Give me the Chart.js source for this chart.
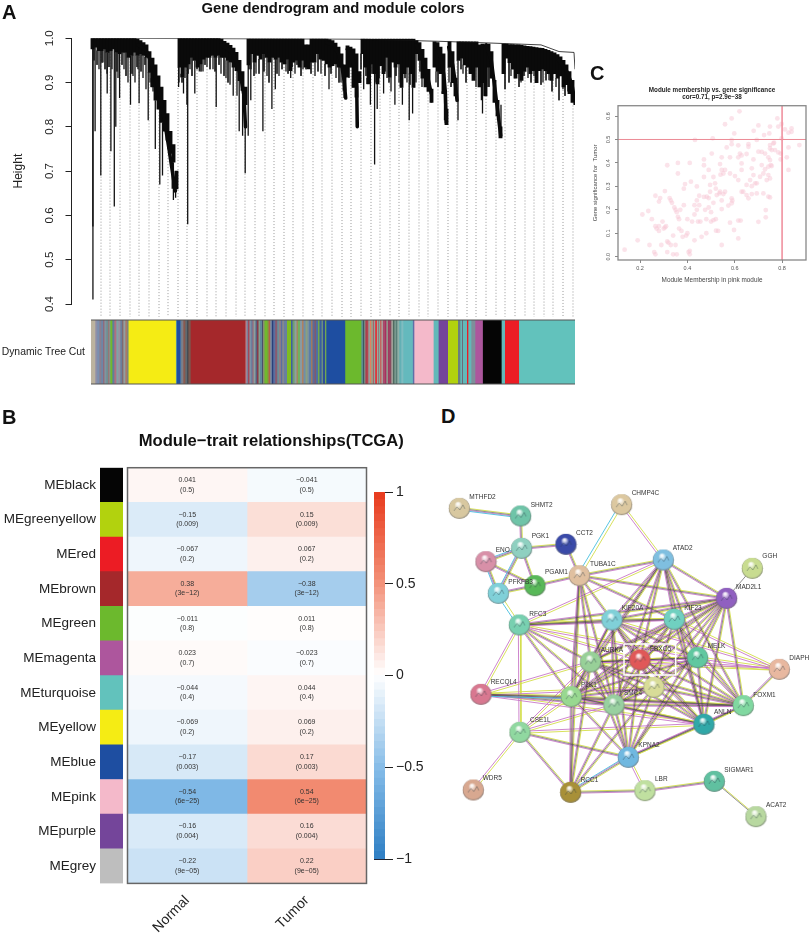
<!DOCTYPE html>
<html>
<head>
<meta charset="utf-8">
<title>WGCNA module figure</title>
<script src="https://cdn.jsdelivr.net/npm/chart.js@4/dist/chart.umd.min.js"></script>
<style>
  html, body { margin: 0; padding: 0; background: #fff; }
  #page { position: relative; width: 809px; height: 936px; overflow: hidden; font-family: "Liberation Sans", sans-serif; }
  #page canvas { position: absolute; }
  .panel-letter { position: absolute; font-weight: bold; font-size: 20px; line-height: 20px; color: #111; }
</style>
</head>
<body>
<div id="page">
  <canvas id="dendro" width="666" height="322" style="left:0px;top:0px"></canvas>
  <canvas id="strip" width="600" height="70" style="left:0px;top:317px"></canvas>
  <canvas id="network" width="379" height="370" style="left:430px;top:480px"></canvas>
  <canvas id="scatter" width="239" height="205" style="left:570px;top:84px"></canvas>
  <canvas id="moduleColors" width="124" height="430" style="left:0px;top:460px"></canvas>
  <canvas id="heat" width="295" height="511" style="left:120px;top:425px"></canvas>
  <canvas id="colorbar" width="60" height="385" style="left:365px;top:485px"></canvas>
  <div class="panel-letter" style="left:2px;top:2px">A</div>
  <div class="panel-letter" style="left:2px;top:407px">B</div>
  <div class="panel-letter" style="left:590px;top:63px">C</div>
  <div class="panel-letter" style="left:441px;top:406px">D</div>
</div>
<script>
// Panel A - dendrogram, read column by column (3 gene positions per column)
const dendroTop = [
  1,1,1,1,1,1,1,1,1,1,1,1,1,1,1,.998,.995,.99,.985,.97,.955,.94,.915,.89,.86,.83,.79,.76,.70,
  1,1,1,1,1,1,1,1,1,1,1,1,1,1,.998,.993,.989,.984,.978,.968,.95,.925,.89,
  .998,
  .998,.998,.998,.998,.998,.998,.998,.998,.998,.998,.998,.998,.998,.998,.998,.998,.998,.998,.985,.985,.998,.998,.998,.998,.998,.998,
  .997,.995,.989,.98,.965,.94,.983,.98,.976,.965,.925,
  .998,.998,.998,.998,.998,.998,.998,.998,.998,.998,.998,.998,.998,.998,.998,.998,.998,.998,
  .995,.99,.975,.955,.93,.885,
  .992,.99,.98,.965,.84,
  .992,.97,.91,
  .992,.992,.992,.992,.992,.992,.992,.985,
  .987,.985,
  .987,.97,.905,.86,.80,
  .987,.987,.986,.986,.985,.985,.984,.983,.982,.981,.98,.979,.978,.977,.975,.973,.97,.967,.963,.958,.95,.94,.925,.905,.875
];
const dendroBottom = [
  .976,.98,.972,.972,.976,.968,.972,.976,.968,.965,.968,.968,.957,.961,.968,.961,.965,.961,.957,.923,.89,.86,.84,.81,.79,.77,.74,.72,.66,
  .935,.912,.935,.942,.957,.95,.935,.942,.953,.957,.957,.961,.957,.961,.957,.957,.95,.946,.935,.927,.904,.882,.85,
  .94,
  .965,.946,.961,.953,.965,.957,.946,.957,.953,.957,.946,.942,.953,.927,.946,.95,.935,.95,.935,.931,.946,.946,.965,.953,.95,.942,.935,.938,.942,.935,.935,.882,.912,.935,.889,.867,.90,
  .965,.935,.897,.942,.92,.897,.938,.92,.957,.912,.946,.935,.942,.889,.92,.935,.92,.889,
  .965,.95,.91,.89,.88,.855,
  .935,.925,.92,.875,.805,
  .935,.90,.87,
  .95,.955,.94,.935,.92,.905,.935,.89,
  .90,.87,
  .935,.91,.855,.825,.775,
  .92,.955,.945,.93,.91,.92,.905,.925,.935,.92,.927,.90,.927,.93,.927,.92,.905,.92,.91,.915,.89,.895,.875,.855,.85
];
const spikePos = [1.9,4.1,9.8,16.2,19.9,23.3,24.8,28.6,39.5,48.1,57.2,64.3,68.8,71.5,77.1,81.2,82.4,84.6,87.6,92.5,95.9,96.7,103.8,108.3,125.2,142.2,148.2,151.6,154.2,157.2,159.8,171.9,180.9,184.3,199.7,238,253.1,265.5,272.7,279.4,283.6,286.2,292.6,303.9,311.4,318.2,321.6,340.4,353.5,367,390.4,391.5,406.6,408.4,410.3,476.9,483.3];
const spikeHeight = [.575,.79,.69,.875,.745,.62,.80,.865,.85,.853,.815,.75,.67,.69,.75,.66,.635,.64,.89,.875,.85,.58,.875,.925,.845,.87,.79,.78,.695,.78,.86,.79,.84,.885,.91,.885,.865,.80,.885,.85,.715,.84,.875,.85,.85,.815,.83,.86,.815,.815,.86,.83,.83,.775,.79,.88,.855];
const fringePos = [1.9,8,12,16,21,27,33,37,42,44,47,52,55,59,62,88,90,94,99,112,116,122,130,135,139,146,160,165,176,188,195,204,212,224,230,245,250,258,262,276,284,296,300,308,316,325,331,345,358,372,385,397,410,420,430,437,443,452,458,465,472];
const fringeHeight = [.41,.93,.945,.92,.93,.91,.93,.90,.915,.90,.93,.91,.885,.90,.88,.90,.92,.91,.93,.925,.935,.93,.92,.91,.895,.87,.93,.92,.915,.915,.925,.92,.93,.915,.92,.91,.90,.91,.90,.91,.90,.91,.88,.90,.90,.90,.89,.90,.90,.92,.89,.89,.85,.915,.90,.91,.915,.90,.905,.89,.885];
const hairPos = [3,6,11,14,18,26,31,35,41,46,50,54,60,91,97,101,106,110,114,119,124,128,133,137,158,163,168,173,178,186,191,197,201,206,210,215,220,227,234,240,248,254,270,275,281,288,294,298,305,310,314,319,323,329,334,347,351,360,370,375,380,388,393,398,414,418,423,428,433,440,446,450,455,461,468,474,480];
const hairHeight = [.95,.94,.945,.93,.935,.925,.94,.915,.92,.935,.925,.94,.91,.90,.92,.915,.93,.925,.94,.93,.925,.94,.915,.90,.93,.915,.92,.925,.90,.92,.93,.92,.935,.94,.915,.93,.92,.925,.915,.92,.90,.905,.93,.915,.92,.91,.925,.90,.915,.895,.91,.895,.915,.925,.90,.89,.88,.89,.93,.90,.92,.925,.90,.89,.885,.90,.91,.89,.915,.90,.91,.895,.905,.88,.86,.87,.855];
// the long sweeping branches at the right end of each cluster (null starts a new branch)
const arcPos = [47,55.3,62,67.7,73,78,81.3,84.3,null,130,140,146,150,153,154.5,null,235.7,242.3,247.3,250.7,253.3,254.7,null,256.3,260.7,264,265.7,266.3,null,325.3,331,336,340.3,null,344.3,349.3,352.7,354.3,355.3,null,357.7,361.7,364.3,366,null,395,400.3,404.3,407,409.7,null,467.7,476,481,483.7];
const arcHeight = [.985,.972,.935,.885,.82,.75,.70,.655,null,.985,.97,.945,.91,.87,.80,null,.99,.985,.965,.94,.90,.865,null,.975,.96,.93,.89,.80,null,.985,.955,.92,.875,null,.985,.96,.92,.88,.81,null,.98,.94,.90,.86,null,.985,.95,.88,.83,.78,null,.95,.925,.895,.86];
const guidePos = [10,19,29,39,48,58,68,77,87,96,106,116,125,135,145,154,164,174,183,193,202,212,222,231,241,251,260,270,280,289,299,308,318,328,337,347,357,366,376,385,395,405,414,424,434,443,453,462,472,482];
const rootPos = [0,267,350,402,450,468,483,484];
const rootHeight = [1,.998,.993,.989,.985,.97,.968,.93];
const heightTicks = [0.4,0.5,0.6,0.7,0.8,0.9,1.0];

// Dynamic Tree Cut strip
const stripWidths = [
  4,2,2,2,2,1,2,2,1,1,2,2,2,2,2,2,1,2,2,1.2,
  47.4,
  1,3.4,1,2,2,2,1,2.3,
  54.9,
  1,1.5,1.5,1,2,1,2,1.5,1.5,1.5,2,1,1.5,3,1.2,1.5,1.5,1.5,2,2,2,1.5,1.5,1.5,3.3,4,1.5,2,2,1.5,2,2,1.5,2,2,1.5,2,1.5,2,1.5,2,1.5,2,1.5,2,1.3,
  18.9,16.1,
  1.5,1.5,1,2,1,1.5,1.5,1.5,1,1.5,1.5,1,1,1.5,1,1.5,2,1.5,1.5,2,1.5,1.5,1.5,1.5,1.5,2,2,2,9.5,1.5,
  19.3,5,9.4,10,2.3,1.7,1,4,1.3,3,4,7.5,18.8,3.4,14,56.3
];
const stripColors = [
  '#bcb39f','#8f8fa8','#7a8fb0','#8a7f8f','#6c86a8','#a0606a','#7f95a0','#6e8f92','#a96b6b','#7f9a9a','#6fba2c','#5e7f9a','#b07080','#7fa3a8','#9a8fa0','#6a7f9a','#8a5f5f','#92a0a0','#a87a6a','#6f8a80',
  '#f5ec14',
  '#4f8f9a','#1f4ea1','#5a7f9f','#7f7f88','#8a5a4f','#606a70','#3a3f46','#7a5a50',
  '#a5282b',
  '#c09098','#7a7f9a','#a04a5a','#8fa0a8','#6a7f9f','#a06070','#88a0a0','#5a5f7f','#8a3a4a','#7fa090','#5f8a9a','#4a4f6a','#8a8f70','#6fba2c','#8a8f40','#b0604a','#7a90a8','#2a3f7a','#5a6fa0','#8a5a70','#6a8f98','#9a7a80','#5a6fa0','#8a8a8a','#6a7f9f','#7ebc22','#3f5fa0','#6f9f6f','#8f9fa0','#a08a5a','#6fb060','#8a9aa0','#b08060','#6f8fa8','#8aa080','#7a8fa0','#5a7fa8','#a07a60','#5a6a9a','#7f5a70','#4f6fa0','#6fa84f','#3a5fa0','#6a8f80','#2f4f98','#70a850',
  '#1e4ea1','#6cb92d',
  '#5f8f98','#3a5a60','#8f9f90','#a83f4f','#c04a50','#8fa0a0','#e08060','#8fa890','#b0505a','#90a8a0','#ec1c24','#a0b0a0','#9a6a70','#7fb0a0','#e04040','#a8a8a0','#a84a6a','#a83060','#90a090','#a03a5f','#8a4a60','#a8a8a0','#506a60','#7a9a90','#5a7f78','#8fb0a8','#62b0b5','#7fbcc0','#64b9bd','#5f6fa8',
  '#f4b9ca','#62b9b9','#74459a','#b2d20e','#6a7f80','#62b9b9','#6a6a7a','#62b9b9','#ec1c24','#62b9b9','#7f8f9a','#ad569d','#050505','#62b9b9','#ec1c24','#62c2bc'
];

// Panel B - module trait relationships
const moduleNames = ['MEblack','MEgreenyellow','MEred','MEbrown','MEgreen','MEmagenta','MEturquoise','MEyellow','MEblue','MEpink','MEpurple','MEgrey'];
const moduleColors = ['#050505','#b2d20e','#ec1c24','#a5282b','#6cb92d','#ad569d','#62c2bc','#f5ec14','#1e4ea1','#f4b9ca','#74459a','#bebebe'];
const traitNames = ['Normal','Tumor'];
const normalCor = [0.041,-0.15,-0.067,0.38,-0.011,0.023,-0.044,-0.069,-0.17,-0.54,-0.16,-0.22];
const tumorCor = [-0.041,0.15,0.067,-0.38,0.011,-0.023,0.044,0.069,0.17,0.54,0.16,0.22];
const corPvalues = ['0.5','0.009','0.2','3e−12','0.8','0.7','0.4','0.2','0.003','6e−25','0.004','9e−05'];
const colorbarTicks = [-1,-0.5,0,0.5,1];

// Panel C - module membership vs gene significance
const membership = [.135,.19,.21,.235,.24,.25,.26,.265,.265,.265,.27,.28,.28,.285,.28,.29,.295,.3,.305,.31,.305,.315,.315,.315,.32,.325,.33,.33,.335,.34,.34,.345,.35,.35,.355,.355,.36,.36,.36,.365,.365,.37,.375,.38,.385,.385,.39,.395,.4,.4,.405,.41,.41,.41,.415,.42,.43,.43,.43,.432,.44,.44,.44,.445,.45,.45,.455,.46,.47,.47,.47,.47,.475,.48,.48,.49,.49,.49,.5,.5,.51,.51,.507,.503,.52,.52,.53,.535,.54,.545,.559,.587,.598,.68,.70,.78,.798,.784,.749,.746,.724,.84,.84,.812,.827,.798,.587,.587,.615,.658,.658,.693,.566,.545,.58,.622,.629,.615,.65,.679,.7,.714,.728,.749,.756,.77,.749,.766,.742,.749,.763,.784,.794,.794,.82,.827,.873,.827,.752,.756,.742,.728,.714,.538,.545,.559,.552,.58,.601,.615,.629,.629,.672,.65,.665,.679,.686,.693,.707,.721,.742,.749,.735,.742,.749,.721,.693,.672,.658,.672,.629,.636,.65,.731,.731,.7,.615,.625,.615,.597,.58,.587,.59,.587,.573,.545,.545,.521,.51,.559,.552,.538,.524,.496,.482,.517,.496,.62];
const significance = [.03,.07,.18,.195,.05,.16,.02,.01,.26,.13,.12,.11,.13,.25,.235,.05,.15,.12,.125,.13,.28,.02,.39,.065,.06,.25,.24,.05,.23,.01,.09,.21,.20,.05,.01,.19,.40,.355,.17,.12,.16,.2,.11,.085,.22,.29,.31,.09,.16,.1,.02,.01,.025,.4,.32,.15,.18,.07,.22,.498,.3,.24,.2,.15,.22,.26,.15,.085,.39,.415,.34,.255,.2,.1,.16,.37,.21,.25,.19,.15,.34,.23,.505,.44,.16,.29,.11,.27,.35,.24,.565,.59,.526,.537,.56,.59,.566,.555,.555,.526,.519,.547,.533,.543,.529,.505,.498,.48,.475,.48,.469,.498,.466,.424,.424,.44,.432,.424,.438,.415,.448,.447,.44,.476,.455,.455,.462,.486,.424,.412,.483,.445,.44,.415,.424,.466,.476,.37,.391,.387,.384,.373,.391,.395,.37,.37,.355,.355,.344,.327,.398,.37,.377,.306,.327,.348,.313,.313,.341,.355,.348,.334,.327,.256,.253,.27,.27,.267,.249,.301,.277,.277,.263,.199,.168,.149,.154,.154,.078,.114,.145,.249,.239,.228,.218,.203,.05,.111,.156,.277,.267,.277,.263,.277,.256,.313,.306,.62];
const membershipTicks = [0.2,0.4,0.6,0.8];
const significanceTicks = [0,0.1,0.2,0.3,0.4,0.5,0.6];
const membershipCut = 0.8;
const significanceCut = 0.5;

// Panel D - STRING network
const nodeNames = ['MTHFD2','SHMT2','PGK1','CCT2','ENO','TUBA1C','PGAM1','PFKFB3','CHMP4C','ATAD2','GGH','MAD2L1','RFC3','KIF20A','KIF23','AURKA','FBXO5','MELK','DIAPH','RECQL4','PLK1','SMC4','X','FOXM1','ANLN','CSE1L','KPNA2','WDR5','RCC1','LBR','SIGMAR1','ACAT2'];
const nodeX = [88,272,275,408,168,448,315,205,575,700,967,890,268,546,733,482,630,803,1048,153,424,552,672,940,822,270,595,130,422,645,853,978];
const nodeY = [85,108,205,193,245,287,317,340,74,240,265,355,435,420,418,546,540,533,568,643,650,675,622,677,733,757,832,930,937,932,904,1010];
const nodeFill = ['#d8c8a0','#6fc4a8','#8fd0c0','#3a4aa8','#d890a8','#e0c0a0','#58b858','#80d0d8','#dcc8a0','#7fbfe0','#c8dc90','#9060c0','#78d0b0','#80d0d8','#70d0c0','#98d098','#e05858','#60c8a0','#e8b8a0','#d87890','#98d890','#98d0a0','#d8dc98','#80d8a0','#30a8a8','#90d8a0','#70b8e0','#d8a890','#a89038','#c0e0a0','#60c0a0','#b8d8a0'];
const labelX = [118,302,305,438,197,480,345,235,605,728,997,918,298,575,763,512,660,833,1078,182,453,582,null,970,852,300,625,158,452,675,883,1008];
const labelY = [52,75,170,160,212,252,278,306,40,205,230,322,402,385,385,512,507,500,535,608,615,640,null,645,698,722,797,895,902,898,871,975];
const edgeList = [
  'MTHFD2-SHMT2:ykmc','SHMT2-PGK1:ykm','PGK1-CCT2:ykm','PGK1-ENO:ykmc','PGK1-PFKFB3:ykmc','PGK1-PGAM1:ykm','ENO-PFKFB3:ykmc','ENO-PGAM1:ykm','PFKFB3-RFC3:yc','PGAM1-PFKFB3:ykm','PGAM1-TUBA1C:ykm','CCT2-TUBA1C:ykm','CHMP4C-TUBA1C:yc','CHMP4C-ATAD2:ym',
  'TUBA1C-ATAD2:ykm','TUBA1C-MAD2L1:ykm','TUBA1C-KIF20A:ykm','TUBA1C-KIF23:ykm','TUBA1C-AURKA:ykm','TUBA1C-PLK1:ykm','TUBA1C-RCC1:ykm','TUBA1C-SMC4:ykm',
  'ATAD2-RFC3:ym','ATAD2-KIF20A:ykm','ATAD2-KIF23:ykm','ATAD2-MAD2L1:ykm','ATAD2-MELK:ykm','ATAD2-AURKA:ykm','ATAD2-FOXM1:ykm','ATAD2-FBXO5:ykm','ATAD2-PLK1:ykm','ATAD2-SMC4:ykm','ATAD2-ANLN:ykm',
  'GGH-MAD2L1:k','MAD2L1-KIF20A:ykm','MAD2L1-KIF23:ykm','MAD2L1-MELK:ykm','MAD2L1-AURKA:ykm','MAD2L1-FBXO5:ykm','MAD2L1-PLK1:ykm','MAD2L1-SMC4:ykm','MAD2L1-FOXM1:ykm','MAD2L1-ANLN:ykm','MAD2L1-RFC3:ykm','MAD2L1-X:ykm','MAD2L1-KPNA2:ykm',
  'RFC3-KIF20A:ykm','RFC3-KIF23:ykm','RFC3-AURKA:ykm','RFC3-PLK1:ykm','RFC3-SMC4:ykm','RFC3-RECQL4:ym','RFC3-CSE1L:ym','RFC3-FBXO5:ym','RFC3-MELK:ym',
  'KIF20A-KIF23:ykm','KIF20A-AURKA:ykm','KIF20A-FBXO5:ykm','KIF20A-MELK:ykm','KIF20A-PLK1:ykm','KIF20A-SMC4:ykm','KIF20A-X:ykm','KIF20A-FOXM1:ykm','KIF20A-ANLN:ykm','KIF20A-KPNA2:ykm','KIF20A-DIAPH:ym',
  'KIF23-AURKA:ykm','KIF23-FBXO5:ykm','KIF23-MELK:ykm','KIF23-PLK1:ykm','KIF23-SMC4:ykm','KIF23-X:ykm','KIF23-FOXM1:ykm','KIF23-ANLN:ykm','KIF23-DIAPH:ym',
  'AURKA-FBXO5:ykm','AURKA-MELK:ykm','AURKA-PLK1:ykm','AURKA-SMC4:ykm','AURKA-X:ykm','AURKA-FOXM1:ykm','AURKA-ANLN:ykm','AURKA-KPNA2:ykm','AURKA-RECQL4:ym','AURKA-RCC1:ykm','AURKA-CSE1L:ym',
  'FBXO5-MELK:ykm','FBXO5-PLK1:ykm','FBXO5-SMC4:ykm','FBXO5-X:ykm','FBXO5-FOXM1:ykm','FBXO5-ANLN:ykm','FBXO5-KPNA2:ykm',
  'MELK-DIAPH:ym','MELK-PLK1:ykm','MELK-SMC4:ykm','MELK-X:ykm','MELK-FOXM1:ykm','MELK-ANLN:ykm','MELK-KPNA2:ykm','DIAPH-FOXM1:ykm','DIAPH-AURKA:ym','DIAPH-FBXO5:ym',
  'RECQL4-PLK1:ykmc','RECQL4-SMC4:ykm','RECQL4-X:ym','RECQL4-FOXM1:ykm','RECQL4-ANLN:ym',
  'PLK1-SMC4:ykm','PLK1-X:ykm','PLK1-FOXM1:ykm','PLK1-ANLN:ykm','PLK1-CSE1L:ym','PLK1-KPNA2:ykm','PLK1-RCC1:ykm',
  'SMC4-X:ykm','SMC4-FOXM1:ykm','SMC4-ANLN:ykm','SMC4-CSE1L:ym','SMC4-KPNA2:ykm','SMC4-RCC1:ykm',
  'X-FOXM1:ykm','X-ANLN:ykm','X-KPNA2:ykm','X-RCC1:ykm','FOXM1-ANLN:ykm','FOXM1-KPNA2:ykm','ANLN-KPNA2:ykm','ANLN-CSE1L:ym',
  'CSE1L-KPNA2:ykm','CSE1L-RCC1:ykm','CSE1L-WDR5:ym','KPNA2-RCC1:ykmc','KPNA2-LBR:ym','RCC1-LBR:ykm','LBR-SIGMAR1:ykm','SIGMAR1-ACAT2:yk'
];
const boxX = [582,737,737,582,582];
const boxY = [492,492,585,585,492];

const FONT = '"Liberation Sans", sans-serif';
Chart.defaults.animation = false;
Chart.defaults.responsive = false;
Chart.defaults.font.family = FONT;
Chart.defaults.plugins.legend.display = false;
Chart.defaults.plugins.tooltip.enabled = false;

// stroke around the chart area, R style
const frame = {
  id: 'frame',
  afterDatasetsDraw(chart, args, opts) {
    const a = chart.chartArea;
    const c = chart.ctx;
    c.save();
    c.strokeStyle = opts.color;
    c.lineWidth = opts.width;
    c.strokeRect(a.left, a.top, a.right - a.left, a.bottom - a.top);
    c.restore();
  }
};

// thin rules along the top and bottom of the colour strip
const stripEdges = {
  id: 'stripEdges',
  afterDatasetsDraw(chart) {
    const a = chart.chartArea;
    const c = chart.ctx;
    c.save();
    c.strokeStyle = '#555';
    c.lineWidth = 1;
    c.beginPath();
    c.moveTo(a.left, a.top); c.lineTo(a.right, a.top);
    c.moveTo(a.left, a.bottom); c.lineTo(a.right, a.bottom);
    c.stroke();
    c.restore();
  }
};

// empty axis on the right, keeps the title centred on the whole canvas
function spacerAxis(width) {
  return {
    position: 'right',
    afterFit(s) { s.width = width; },
    border: { display: false }, grid: { display: false }, ticks: { display: false }
  };
}

// fixed axis width, and no extra room for labels that stick out past the ends
function fixedAxis(width) {
  return function (s) {
    s.width = width;
    s.paddingTop = 0;
    s.paddingBottom = 0;
  };
}

function segments(xs, tops, bottoms) {
  const out = [];
  xs.forEach((x, i) => {
    out.push({ x: x, y: tops[i] }, { x: x, y: bottoms[i] }, { x: x, y: null });
  });
  return out;
}
function massBottomAt(pos) {
  return dendroBottom[Math.min(dendroBottom.length - 1, Math.floor(pos / 3))];
}

// ---- A: dendrogram
new Chart(document.getElementById('dendro'), {
  data: {
    datasets: [
      {
        type: 'bar', order: 1, barThickness: 3.2, backgroundColor: '#0a0a0a',
        data: dendroTop.map((t, i) => ({ x: 1.5 + 3 * i, y: [dendroBottom[i], t] }))
      },
      {
        type: 'line', order: 0, borderColor: '#111', borderWidth: 0.8, pointRadius: 0,
        data: rootPos.map((x, i) => ({ x: x, y: rootHeight[i] }))
      },
      {
        type: 'line', order: 0, borderColor: '#0a0a0a', borderWidth: 3.5, pointRadius: 0, borderCapStyle: 'round',
        data: arcPos.map((x, i) => ({ x: x, y: arcHeight[i] }))
      },
      {
        type: 'line', order: 2, borderColor: '#111', borderWidth: 1.3, pointRadius: 0,
        data: segments(spikePos, spikePos.map(massBottomAt), spikeHeight)
      },
      {
        type: 'line', order: 2, borderColor: '#222', borderWidth: 1, pointRadius: 0,
        data: segments(hairPos, hairPos.map(massBottomAt), hairHeight)
      },
      {
        type: 'line', order: 3, borderColor: '#555', borderWidth: 1.8, pointRadius: 0,
        data: segments(fringePos, fringePos.map(massBottomAt), fringeHeight)
      },
      {
        type: 'line', order: 4, borderColor: '#999', borderWidth: 1, borderDash: [1, 2], pointRadius: 0, clip: false,
        data: segments(guidePos, guidePos.map(massBottomAt), guidePos.map(() => 0.371))
      }
    ]
  },
  options: {
    layout: { autoPadding: false, padding: { bottom: 18 } },
    plugins: {
      title: {
        display: true, text: 'Gene dendrogram and module colors', color: '#111',
        font: { size: 14.8, weight: 'bold' }, padding: { top: 0, bottom: 20.5 }
      }
    },
    scales: {
      x: { type: 'linear', min: -19.5, max: 484, display: false, offset: false },
      y: {
        min: 0.4, max: 1,
        afterFit: fixedAxis(71.5),
        afterBuildTicks(s) { s.ticks = heightTicks.map(v => ({ value: v })); },
        border: { color: '#222' },
        grid: { drawOnChartArea: false, tickLength: 6, tickColor: '#222' },
        ticks: {
          minRotation: 90, maxRotation: 90, crossAlign: 'center', padding: 8, color: '#222',
          font: { size: 11.5 }, callback: v => v.toFixed(1)
        },
        title: { display: true, text: 'Height', color: '#222', font: { size: 12 }, padding: { top: 11, bottom: 0 } }
      },
      pad: spacerAxis(91)
    }
  }
});

// ---- A: module colour strip
new Chart(document.getElementById('strip'), {
  type: 'bar',
  plugins: [stripEdges],
  data: {
    labels: ['Dynamic Tree Cut'],
    datasets: stripWidths.map((w, i) => ({ data: [w], backgroundColor: stripColors[i], barPercentage: 1, categoryPercentage: 1 }))
  },
  options: {
    indexAxis: 'y',
    layout: { autoPadding: false, padding: { top: 3, right: 25, bottom: 3 } },
    scales: {
      x: { stacked: true, min: 0, max: 484, display: false },
      y: {
        stacked: true,
        afterFit: fixedAxis(91),
        border: { display: false }, grid: { display: false, drawTicks: false },
        ticks: { color: '#222', font: { size: 10.4 }, padding: 6 }
      }
    }
  }
});

// ---- B: correlation colour scale
const corStops = [
  [-1, [47, 127, 196]], [-0.54, [127, 184, 230]], [0, [255, 255, 255]], [0.54, [242, 138, 112]], [1, [232, 58, 28]]
];
function corColor(v) {
  let i = 0;
  while (i < corStops.length - 2 && v > corStops[i + 1][0]) i++;
  const a = corStops[i], b = corStops[i + 1];
  const t = (v - a[0]) / (b[0] - a[0]);
  const c = a[1].map((ch, k) => Math.round(ch + (b[1][k] - ch) * t));
  return 'rgb(' + c.join(',') + ')';
}
const minus = s => String(s).replace('-', '−');

// ---- B: module colour column with names
new Chart(document.getElementById('moduleColors'), {
  type: 'bar',
  data: {
    labels: moduleNames,
    datasets: [{ data: moduleNames.map(() => 1), backgroundColor: moduleColors, barPercentage: 1, categoryPercentage: 1 }]
  },
  options: {
    indexAxis: 'y',
    layout: { autoPadding: false, padding: { top: 7.7, right: 1, bottom: 6.6 } },
    scales: {
      x: { min: 0, max: 1, display: false },
      y: {
        afterFit: fixedAxis(100),
        border: { display: false }, grid: { display: false, drawTicks: false },
        ticks: { color: '#222', font: { size: 13.5 }, padding: 4 }
      }
    }
  }
});

// ---- B: heatmap
const cellText = {
  id: 'cellText',
  afterDatasetsDraw(chart) {
    const c = chart.ctx, xs = chart.scales.x, ys = chart.scales.y;
    c.save();
    c.font = '7px ' + FONT;
    c.fillStyle = '#333';
    c.textAlign = 'center';
    c.textBaseline = 'middle';
    chart.data.datasets.forEach((ds, col) => {
      moduleNames.forEach((name, row) => {
        const px = xs.getPixelForValue(col + 0.5), py = ys.getPixelForValue(row);
        c.fillText(minus(ds.cor[row]), px, py - 5);
        c.fillText('(' + corPvalues[row] + ')', px, py + 4.6);
      });
    });
    c.restore();
  }
};
new Chart(document.getElementById('heat'), {
  type: 'bar',
  plugins: [frame, cellText],
  data: {
    labels: moduleNames,
    datasets: [normalCor, tumorCor].map(cor => ({
      cor: cor,
      data: cor.map(() => 1),
      backgroundColor: cor.map(corColor),
      barPercentage: 1, categoryPercentage: 1
    }))
  },
  options: {
    indexAxis: 'y',
    layout: { autoPadding: false, padding: { left: 7.5 } },
    plugins: {
      frame: { color: '#666', width: 1.5 },
      title: {
        display: true, text: 'Module−trait relationships(TCGA)', color: '#111',
        font: { size: 16.6, weight: 'bold' }, padding: { top: 6, bottom: 16.8 }
      }
    },
    scales: {
      x: {
        stacked: true, min: 0, max: 2,
        afterFit(s) { s.height = 52.6; },
        afterBuildTicks(s) { s.ticks = traitNames.map((n, i) => ({ value: i + 0.5 })); },
        border: { display: false }, grid: { display: false },
        ticks: {
          minRotation: 45, maxRotation: 45, padding: 1, color: '#222', font: { size: 14 },
          callback: v => traitNames[Math.floor(v)]
        }
      },
      y: { stacked: true, display: false },
      pad: spacerAxis(48.5)
    }
  }
});

// ---- B: colour bar
const barSteps = [];
for (let v = -1; v < 0.999; v += 0.04) barSteps.push(v);
new Chart(document.getElementById('colorbar'), {
  type: 'bar',
  data: {
    labels: ['cor'],
    datasets: barSteps.map(v => ({
      data: [[v, v + 0.041]], backgroundColor: corColor(v + 0.02), barPercentage: 1, categoryPercentage: 1, grouped: false
    }))
  },
  options: {
    layout: { autoPadding: false, padding: { top: 7, bottom: 11, left: 9 } },
    scales: {
      x: { display: false },
      y: {
        position: 'right', min: -1, max: 1,
        afterFit: fixedAxis(40),
        afterBuildTicks(s) { s.ticks = colorbarTicks.map(v => ({ value: v })); },
        border: { display: false },
        grid: {
          tickLength: 8, tickColor: '#222',
          color: ctx => (ctx.tick && Math.abs(ctx.tick.value) === 1 ? '#223' : 'rgba(0,0,0,0)')
        },
        ticks: { color: '#222', font: { size: 14 }, padding: 3, callback: v => minus(v) }
      }
    }
  }
});

// ---- C: scatter
new Chart(document.getElementById('scatter'), {
  type: 'scatter',
  plugins: [frame],
  data: {
    datasets: [
      {
        data: membership.map((m, i) => ({ x: m, y: significance[i] })),
        backgroundColor: 'rgba(247,200,213,0.5)', pointRadius: 2.4, borderWidth: 0, order: 2
      },
      {
        data: [{ x: membershipCut, y: -0.014 }, { x: membershipCut, y: 0.644 }],
        showLine: true, borderColor: '#f0919f', borderWidth: 1.6, pointRadius: 0, order: 1
      },
      {
        data: [{ x: 0.107, y: significanceCut }, { x: 0.901, y: significanceCut }],
        showLine: true, borderColor: '#ec8a96', borderWidth: 1, pointRadius: 0, order: 1
      }
    ]
  },
  options: {
    layout: { autoPadding: false, padding: { right: 3 } },
    plugins: {
      frame: { color: '#888', width: 1.3 },
      title: {
        display: true, fullSize: false, text: ['Module membership vs. gene significance', 'cor=0.71, p=2.9e−38'],
        color: '#222', font: { size: 6.3, weight: 'bold' }, padding: { top: 2, bottom: 4.6 }
      }
    },
    scales: {
      x: {
        min: 0.107, max: 0.901,
        afterFit(s) { s.height = 29; },
        afterBuildTicks(s) { s.ticks = membershipTicks.map(v => ({ value: v })); },
        border: { display: false },
        grid: { drawOnChartArea: false, tickLength: 3, tickColor: '#888' },
        ticks: { color: '#555', font: { size: 5.5 }, padding: 2, maxRotation: 0, callback: v => v.toFixed(1) },
        title: { display: true, text: 'Module Membership in pink module', color: '#444', font: { size: 6.4 }, padding: { top: 0, bottom: 4.5 } }
      },
      y: {
        min: -0.014, max: 0.644,
        afterFit: fixedAxis(48),
        afterBuildTicks(s) { s.ticks = significanceTicks.map(v => ({ value: v })); },
        border: { display: false },
        grid: { drawOnChartArea: false, tickLength: 3, tickColor: '#888' },
        ticks: {
          minRotation: 90, maxRotation: 90, crossAlign: 'center', padding: 3, color: '#555',
          font: { size: 5.5 }, callback: v => v.toFixed(1)
        },
        title: { display: true, text: 'Gene significance for  Tumor', color: '#444', font: { size: 6 }, padding: { top: 22, bottom: 0 } }
      }
    }
  }
});

// ---- D: network
function sphere(color) {
  const cv = document.createElement('canvas');
  cv.width = 23; cv.height = 23;
  const c = cv.getContext('2d');
  const g = c.createRadialGradient(10, 7, 1, 11.5, 11.5, 11);
  g.addColorStop(0, 'rgba(255,255,255,0.9)');
  g.addColorStop(0.3, color);
  g.addColorStop(0.85, color);
  g.addColorStop(1, '#6a6a6a');
  c.fillStyle = color;
  c.beginPath();
  c.arc(11.5, 11.5, 10.6, 0, Math.PI * 2);
  c.fill();
  c.fillStyle = g;
  c.fill();
  c.strokeStyle = 'rgba(40,60,70,0.4)';
  c.lineWidth = 0.9;
  c.beginPath();
  c.moveTo(6, 14); c.lineTo(9, 10); c.lineTo(12, 13); c.lineTo(15, 8); c.lineTo(17, 12);
  c.stroke();
  return cv;
}
const nodeIndex = name => nodeNames.indexOf(name);
const edges = edgeList.map(e => {
  const parts = e.split(':');
  const ends = parts[0].split('-');
  return { a: nodeIndex(ends[0]), b: nodeIndex(ends[1]), kinds: parts[1] };
});
function strand(kind, offset) {
  const out = [];
  edges.forEach(e => {
    if (!e.kinds.includes(kind)) return;
    const dx = nodeX[e.b] - nodeX[e.a], dy = nodeY[e.b] - nodeY[e.a];
    const len = Math.sqrt(dx * dx + dy * dy);
    const ox = -dy / len * offset, oy = dx / len * offset;
    out.push({ x: nodeX[e.a] + ox, y: nodeY[e.a] + oy }, { x: nodeX[e.b] + ox, y: nodeY[e.b] + oy }, { x: nodeX[e.a], y: null });
  });
  return out;
}
const strandStyle = { pointRadius: 0, showLine: true };
const nodeLabels = {
  id: 'nodeLabels',
  afterDatasetsDraw(chart) {
    const c = chart.ctx, xs = chart.scales.x, ys = chart.scales.y;
    c.save();
    c.font = '6.5px ' + FONT;
    c.fillStyle = '#333';
    c.textAlign = 'left';
    c.textBaseline = 'middle';
    nodeNames.forEach((name, i) => {
      if (labelX[i] === null) return;
      c.fillText(name, xs.getPixelForValue(labelX[i]), ys.getPixelForValue(labelY[i]));
    });
    c.restore();
  }
};
new Chart(document.getElementById('network'), {
  type: 'scatter',
  plugins: [nodeLabels],
  data: {
    datasets: [
      { data: nodeX.map((x, i) => ({ x: x, y: nodeY[i] })), pointStyle: nodeFill.map(sphere), order: 0 },
      { data: boxX.map((x, i) => ({ x: x, y: boxY[i] })), showLine: true, borderColor: '#fff', borderWidth: 1.5, pointRadius: 0, order: 1 },
      Object.assign({ data: strand('y', -3), borderColor: '#d4de4a', borderWidth: 0.9, order: 5 }, strandStyle),
      Object.assign({ data: strand('m', 3), borderColor: '#c878c8', borderWidth: 0.9, order: 4 }, strandStyle),
      Object.assign({ data: strand('k', 0), borderColor: '#444', borderWidth: 0.6, order: 3 }, strandStyle),
      Object.assign({ data: strand('c', 5.5), borderColor: '#46bfe0', borderWidth: 0.9, order: 2 }, strandStyle)
    ]
  },
  options: {
    layout: { autoPadding: false },
    scales: {
      x: { min: 0, max: 1137, display: false },
      y: { min: 0, max: 1110, reverse: true, display: false }
    }
  }
});
</script>
</body>
</html>
